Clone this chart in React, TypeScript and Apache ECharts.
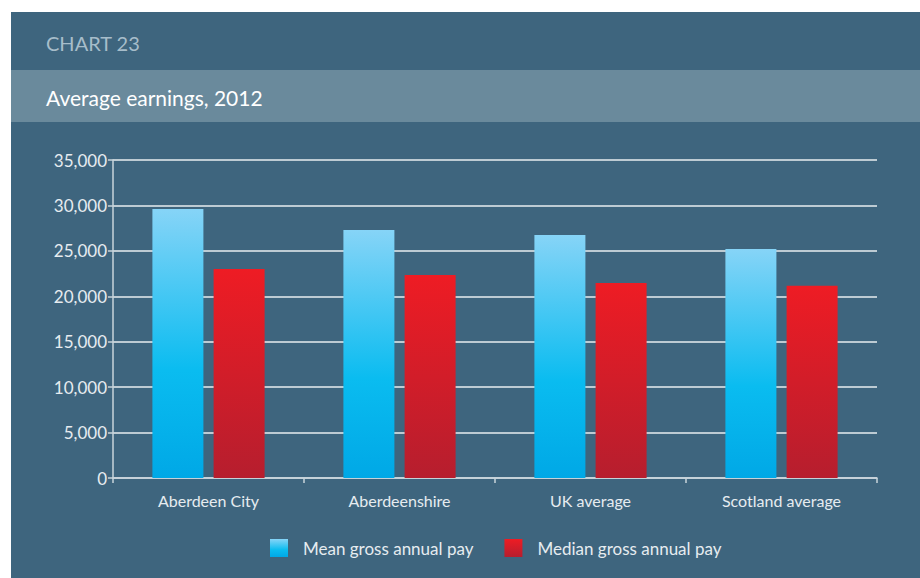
import React, { useEffect, useRef } from "react";
import * as echarts from "echarts";

const categories = ["Aberdeen City", "Aberdeenshire", "UK average", "Scotland average"];
const meanPay = [29600, 27300, 26750, 25200];
const medianPay = [23000, 22350, 21450, 21150];
const seriesNames = ["Mean gross annual pay", "Median gross annual pay"];
const chartLabel = "CHART 23";
const chartTitle = "Average earnings, 2012";

const FONT = "Lato, 'Noto Sans', sans-serif";

export default function App() {
  const ref = useRef<HTMLDivElement>(null);
  useEffect(() => {
    const chart = echarts.init(ref.current!, null, { renderer: "svg" });
    const meanGrad = new echarts.graphic.LinearGradient(0, 0, 0, 1, [
      { offset: 0, color: "#86D4F7" },
      { offset: 0.6, color: "#0ABCF0" },
      { offset: 1, color: "#00A8E6" },
    ]);
    const medianGrad = new echarts.graphic.LinearGradient(0, 0, 0, 1, [
      { offset: 0, color: "#EE1C24" },
      { offset: 1, color: "#B61E2E" },
    ]);
    chart.setOption({
      animation: false,
      backgroundColor: "#ffffff",
      textStyle: { fontFamily: FONT },
      graphic: [
        { type: "rect", z: -10, silent: true, shape: { x: 11, y: 12, width: 909, height: 566 }, style: { fill: "#3E657E" } },
        { type: "rect", z: -9, silent: true, shape: { x: 11, y: 70, width: 909, height: 52 }, style: { fill: "#6A8A9C" } },
        { type: "text", x: 46, y: 43, style: { text: chartLabel, fill: "#A7BDCA", fontSize: 20, fontFamily: FONT, verticalAlign: "middle" } },
        { type: "text", x: 46, y: 97, style: { text: chartTitle, fill: "#FFFFFF", fontSize: 21, fontFamily: FONT, verticalAlign: "middle" } },
      ],
      legend: {
        bottom: 16,
        left: 265,
        itemWidth: 18,
        itemHeight: 18,
        itemGap: 31,
        icon: "rect",
        textStyle: { color: "#E6ECF0", fontSize: 17, fontFamily: FONT, padding: [0, 0, 0, 10] },
        data: seriesNames,
      },
      grid: { left: 113, right: 43, top: 160, bottom: 100, containLabel: false },
      xAxis: {
        type: "category",
        data: categories,
        axisLine: { lineStyle: { color: "#C9D4DB", width: 1.5 } },
        axisTick: { show: true, length: 5, lineStyle: { color: "#C9D4DB", width: 1.5 } },
        axisLabel: { color: "#E6ECF0", fontSize: 16, margin: 14, fontFamily: FONT },
      },
      yAxis: {
        type: "value",
        min: 0,
        max: 35000,
        interval: 5000,
        axisLine: { show: true, lineStyle: { color: "#C9D4DB", width: 1.5 } },
        axisTick: { show: true, length: 5, lineStyle: { color: "#C9D4DB", width: 1.5 } },
        axisLabel: {
          color: "#E6ECF0",
          fontSize: 17,
          margin: 6,
          fontFamily: FONT,
          padding: [0, 0, 6, 0],
          formatter: (v: number) => v.toLocaleString("en-US"),
        },
        splitLine: { show: true, lineStyle: { color: "#E9EEF1", width: 1.5 } },
      },
      series: [
        { name: seriesNames[0], type: "bar", data: meanPay, barWidth: 51, barGap: "20%", itemStyle: { color: meanGrad } },
        { name: seriesNames[1], type: "bar", data: medianPay, barWidth: 51, barGap: "20%", itemStyle: { color: medianGrad } },
      ],
    });
    return () => chart.dispose();
  }, []);
  return <div ref={ref} style={{ position: "absolute", left: 0, top: 0, width: 920, height: 578 }} />;
}
